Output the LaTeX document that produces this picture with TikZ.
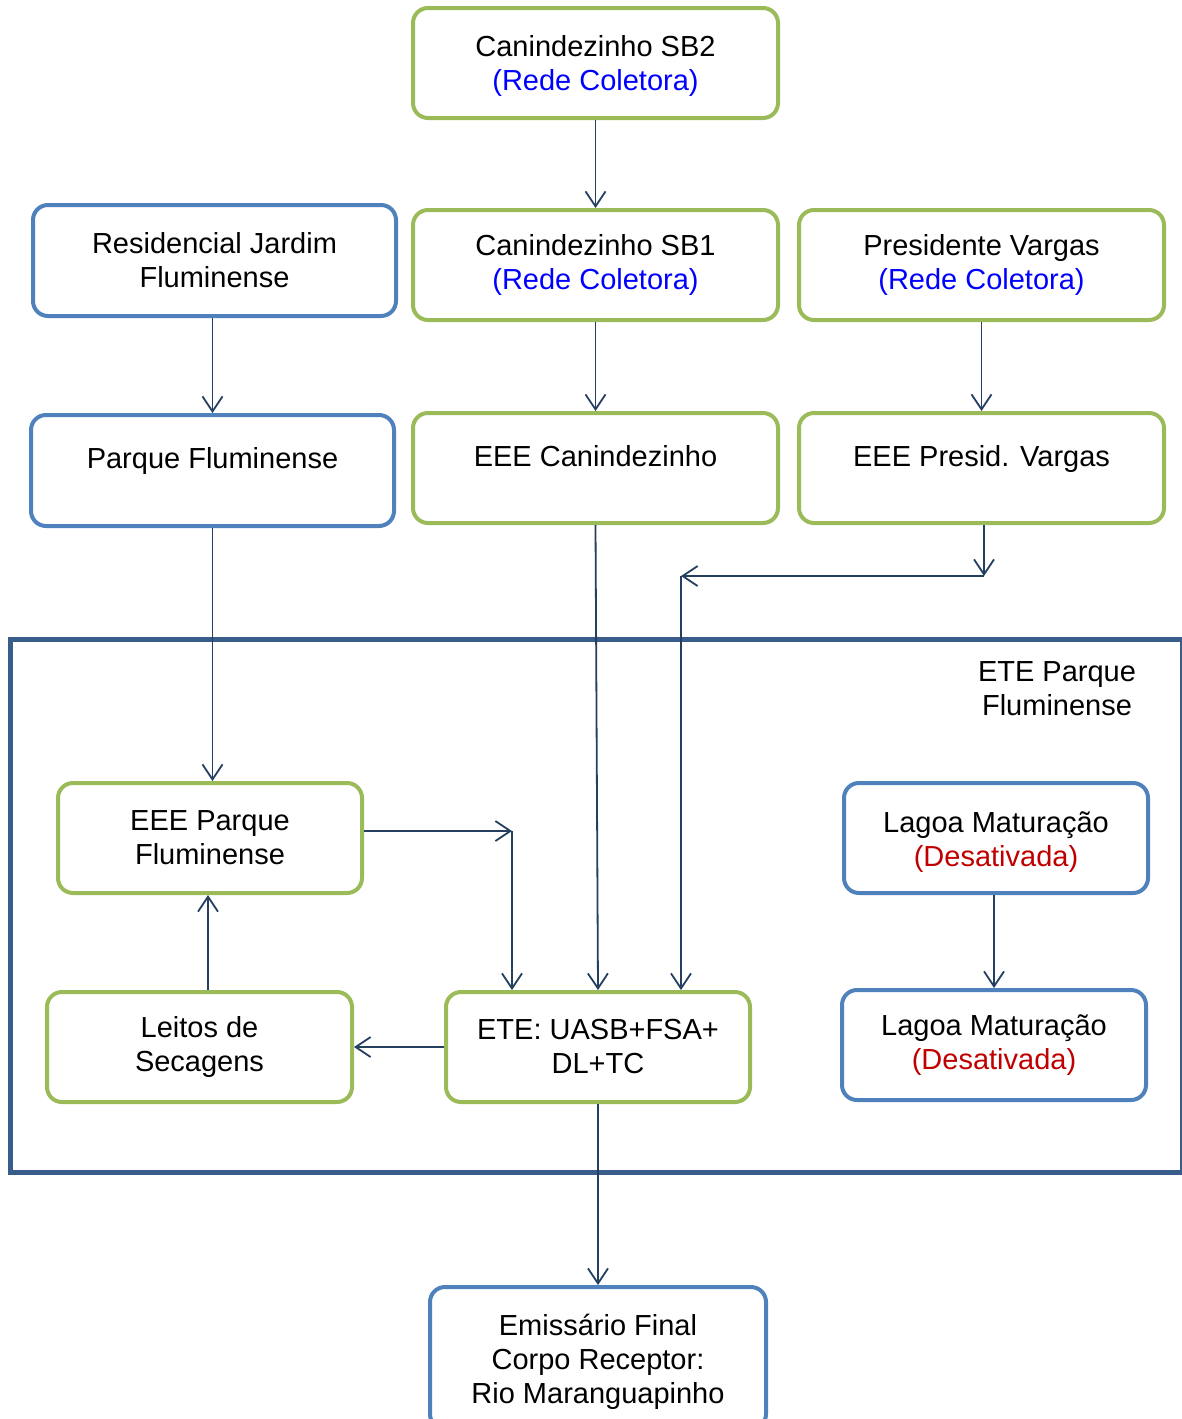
\documentclass[tikz,border=0pt]{standalone}
\usepackage{fontspec}
\setmainfont{Liberation Sans}
\usetikzlibrary{arrows.meta}
\definecolor{grn}{HTML}{9BBB59}
\definecolor{blu}{HTML}{4F81BD}
\definecolor{frm}{HTML}{385D8A}
\definecolor{arrc}{HTML}{243F60}
\definecolor{bluetxt}{HTML}{0000FF}
\definecolor{redtxt}{HTML}{C00000}
\newcommand\mytop{\rule{0pt}{28pt}}
\begin{document}
\begin{tikzpicture}[x=1pt,y=-1pt,
  every node/.style={font=\fontsize{29}{34}\selectfont},
  box/.style={draw, line width=4pt, rounded corners=15pt, fill=white, inner sep=0pt, align=center},
  gbox/.style={box, draw=grn},
  bbox/.style={box, draw=blu},
  wide/.style={minimum width=365pt, minimum height=110pt},
  narrow/.style={minimum width=304pt, minimum height=110pt},
  oneline/.style={text height=20pt, text depth=24pt},
  arr/.style={draw=arrc, line width=1.8pt, -{Straight Barb[length=15pt,width=20pt]}}]
\useasboundingbox (0,0) rectangle (1181,1419);
% frame
\draw[frm, line width=5pt] (10.5,639.5) rectangle (1182,1172.5);
\node[align=center] (etelabel) at (1057,689) {ETE Parque\\Fluminense};
% top rows
\node[gbox, wide] (sb2) at (595.5,63) {\mytop Canindezinho SB2\\\textcolor{bluetxt}{(Rede Coletora)}};
\node[bbox, minimum width=363pt, minimum height=111pt] (res) at (214.5,260.5) {Residencial Jardim\\Fluminense};
\node[gbox, wide] (sb1) at (595.5,265) {Canindezinho SB1\\\textcolor{bluetxt}{(Rede Coletora)}};
\node[gbox, wide] (pv) at (981.5,265) {Presidente Vargas\\\textcolor{bluetxt}{(Rede Coletora)}};
\node[bbox, oneline, minimum width=363pt, minimum height=111pt] (pf) at (212.5,470.5) {Parque Fluminense};
\node[gbox, oneline, wide] (eeec) at (595.5,468) {EEE Canindezinho};
\node[gbox, oneline, wide] (eeepv) at (981.5,468) {EEE Presid. Vargas};
% inside frame
\node[gbox, narrow] (eeepf) at (210,838) {EEE Parque\\Fluminense};
\node[bbox, narrow] (lag1) at (996,838) {\mytop Lagoa Maturação\\\textcolor{redtxt}{(Desativada)}};
\node[gbox, minimum width=305pt, minimum height=110pt] (leit) at (199.5,1047) {Leitos de\\Secagens};
\node[gbox, narrow] (ete) at (598,1047) {ETE: UASB+FSA+\\DL+TC};
\node[bbox, narrow] (lag2) at (994,1045) {Lagoa Maturação\\\textcolor{redtxt}{(Desativada)}};
% bottom
\node[bbox, minimum width=336pt, minimum height=142pt] (emi) at (598,1358) {\mytop Emissário Final\\Corpo Receptor:\\Rio Maranguapinho};
% helper coordinates
\coordinate (c1) at (984,576);
\coordinate (c2) at (681,576);
\coordinate (c3) at (512,831);
\coordinate (lx) at (208,0);
% connectors
\draw[arr] (sb2.south) -- (sb1.north);
\draw[arr] (pf.north |- res.south) -- (pf.north);
\draw[arr] (sb1.south) -- (eeec.north);
\draw[arr] (pv.south) -- (eeepv.north);
\draw[arr] (c1 |- eeepv.south) -- (c1);
\draw[arr] (c1) -- (c2);
\draw[arr] (c2) -- (c2 |- ete.north);
\draw[arr] (pf.south) -- (pf.south |- eeepf.north);
\draw[arr] (eeec.south) -- (ete.north);
\draw[arr] (eeepf.east |- c3) -- (c3);
\draw[arr] (c3) -- (c3 |- ete.north);
\draw[arr] (lx |- leit.north) -- (lx |- eeepf.south);
\draw[arr] (ete.west) -- (leit.east);
\draw[arr] (ete.south) -- (emi.north);
\draw[arr] (lag2.north |- lag1.south) -- (lag2.north);
\end{tikzpicture}
\end{document}
